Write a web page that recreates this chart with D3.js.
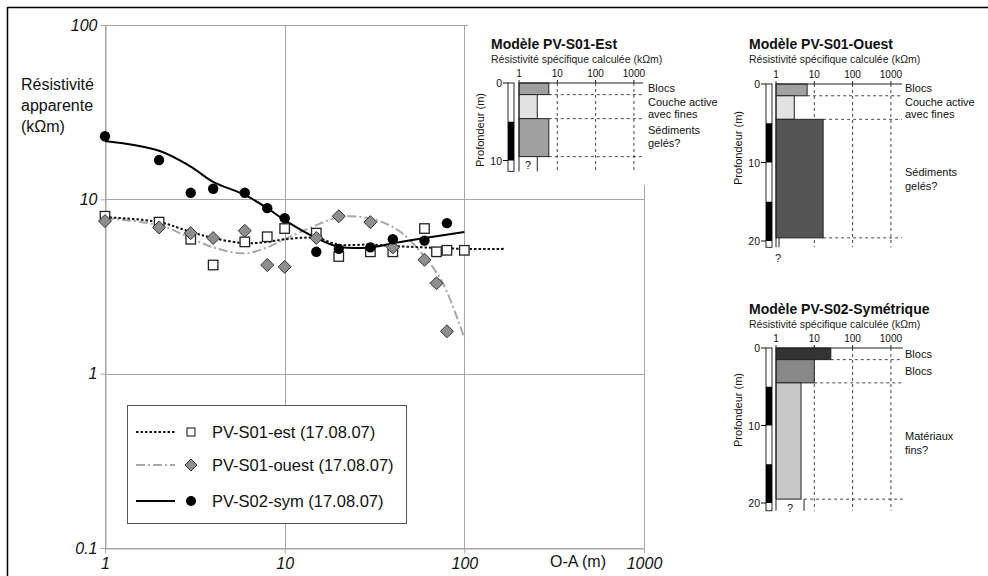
<!DOCTYPE html>
<html>
<head>
<meta charset="utf-8">
<script src="https://cdn.jsdelivr.net/npm/d3@7"></script>
<style>
  body { margin: 0; background: #fff; }
  svg { display: block; font-family: "Liberation Sans", Arial, sans-serif; }
</style>
</head>
<body>
<div id="chart"></div>
<script>
// sondages (AB/2 in m, apparent resistivity in kOhm.m)
const abEst = [1, 2, 3, 4, 6, 8, 10, 15, 20, 30, 40, 60, 70, 80, 100];
const rhoEst = [8.0, 7.4, 5.9, 4.2, 5.7, 6.1, 6.8, 6.4, 4.7, 5.0, 5.0, 6.8, 5.0, 5.1, 5.1];
const abOuest = [1, 2, 3, 4, 6, 8, 10, 15, 20, 30, 40, 60, 70, 80];
const rhoOuest = [7.5, 6.9, 6.4, 6.0, 6.6, 4.2, 4.1, 6.0, 8.0, 7.4, 5.3, 4.5, 3.3, 1.75];
const abSym = [1, 2, 3, 4, 6, 8, 10, 15, 20, 30, 40, 60, 80];
const rhoSym = [23, 16.8, 10.9, 11.5, 10.9, 8.9, 7.8, 5.0, 5.2, 5.3, 5.9, 5.8, 7.3];

// model response curves
const fitEstX = [1, 2, 3, 4, 6, 8, 10, 15, 20, 30, 40, 60, 100, 170];
const fitEstY = [7.9, 7.4, 6.5, 6.0, 5.6, 5.7, 5.9, 6.0, 5.5, 5.5, 5.4, 5.3, 5.2, 5.2];
const fitOuestX = [1, 2, 3, 4, 6, 8, 10, 14, 20, 27, 35, 45, 60, 76, 100];
const fitOuestY = [7.8, 7.1, 6.0, 5.3, 4.9, 5.3, 5.9, 6.9, 7.9, 7.9, 7.4, 6.4, 4.7, 3.3, 1.6];
const fitSymX = [1, 2, 3, 4, 6, 8, 10, 15, 20, 30, 40, 60, 100];
const fitSymY = [21.6, 19.0, 15.4, 12.6, 10.6, 8.9, 7.6, 6.0, 5.35, 5.3, 5.6, 6.0, 6.5];

const xTicks = [1, 10, 100, 1000];
const yTicks = [0.1, 1, 10, 100];
const legendLabels = ["PV-S01-est (17.08.07)", "PV-S01-ouest (17.08.07)", "PV-S02-sym (17.08.07)"];

// 1D models: layer bottoms (m), resistivities (kOhm.m), half-space resistivity
const rhoTicks = [1, 10, 100, 1000];
const estDepth = [1.5, 4.6, 9.5];
const estRho = [6, 3, 6];
const estHalf = 3;
const estLabels = ["Blocs", "Couche active", "avec fines", "Sédiments", "gelés?"];
const ouestDepth = [1.5, 4.5, 19.6];
const ouestRho = [6.5, 3, 17];
const ouestHalf = 1.2;
const ouestLabels = ["Blocs", "Couche active", "avec fines", "Sédiments", "gelés?"];
const symDepth = [1.5, 4.5, 19.5];
const symRho = [27, 10, 4.5];
const symHalf = 5.4;
const symLabels = ["Blocs", "Blocs", "Matériaux", "fins?"];

const W = 988, H = 576;
const svg = d3.select("#chart").append("svg")
  .attr("width", W)
  .attr("height", H);

svg.append("rect").attr("width", W).attr("height", H).attr("fill", "#fff");

// frame
svg.append("line").attr("x1", 7.5).attr("x2", W).attr("y1", 7.5).attr("y2", 7.5)
  .attr("stroke", "#000").attr("stroke-width", 1.5);
svg.append("line").attr("x1", 7.5).attr("x2", 7.5).attr("y1", 7).attr("y2", H)
  .attr("stroke", "#000").attr("stroke-width", 1.5);

const x = d3.scaleLog().domain([1, 1000]).range([105, 644]);
const y = d3.scaleLog().domain([0.1, 100]).range([548, 25]);

// grid
const grid = svg.append("g").attr("stroke", "#a6a6a6").attr("stroke-width", 1);
grid.selectAll(".gx").data(xTicks).join("line")
  .attr("x1", d => Math.round(x(d)) + 0.5).attr("x2", d => Math.round(x(d)) + 0.5)
  .attr("y1", y(0.1)).attr("y2", y(100));
grid.selectAll(".gy").data(yTicks).join("line")
  .attr("x1", x(1)).attr("x2", x(1000))
  .attr("y1", d => Math.round(y(d)) + 0.5).attr("y2", d => Math.round(y(d)) + 0.5);

// axes
const yAxis = svg.append("g")
  .attr("transform", "translate(" + (x(1) + 0.5) + ",0)")
  .call(d3.axisLeft(y).tickValues(yTicks).tickSize(5).tickSizeOuter(0).tickFormat(d3.format("~g")));
const xAxis = svg.append("g")
  .attr("transform", "translate(0," + (y(0.1) + 0.5) + ")")
  .call(d3.axisBottom(x).tickValues(xTicks).tickSize(5).tickSizeOuter(0).tickFormat(d3.format("~g")));
[yAxis, xAxis].forEach(a => {
  a.select(".domain").attr("stroke", "#a6a6a6");
  a.selectAll(".tick line").attr("stroke", "#a6a6a6");
  a.selectAll(".tick text")
    .attr("fill", "#111")
    .style("font-size", "16px")
    .style("font-style", "italic")
    .style("font-family", "'Liberation Sans', Arial, sans-serif");
});
xAxis.selectAll(".tick text").attr("y", 9);

svg.append("text").attr("x", 578).attr("y", 567).attr("text-anchor", "middle")
  .style("font-size", "16px").attr("fill", "#111").text("O-A (m)");

svg.append("text").attr("x", 21).attr("y", 90)
  .style("font-size", "16px").attr("fill", "#111")
  .selectAll("tspan").data(["Résistivité", "apparente", "(kΩm)"]).join("tspan")
  .attr("x", 21).attr("dy", (d, i) => i == 0 ? 0 : 21).text(d => d);

// curves
const line = d3.line().x(d => x(d[0])).y(d => y(d[1])).curve(d3.curveCatmullRom.alpha(0.5));
const plot = svg.append("g");
plot.append("path").datum(d3.zip(fitOuestX, fitOuestY)).attr("d", line)
  .attr("fill", "none").attr("stroke", "#a8a8a8").attr("stroke-width", 2)
  .attr("stroke-dasharray", "9,3,2,3");
plot.append("path").datum(d3.zip(fitEstX, fitEstY)).attr("d", line)
  .attr("fill", "none").attr("stroke", "#111").attr("stroke-width", 2)
  .attr("stroke-dasharray", "2.5,2");
plot.append("path").datum(d3.zip(fitSymX, fitSymY)).attr("d", line)
  .attr("fill", "none").attr("stroke", "#000").attr("stroke-width", 2);

// points
const sq = 9.5, dm = 6.5;
plot.selectAll(".est").data(d3.zip(abEst, rhoEst)).join("rect")
  .attr("x", d => x(d[0]) - sq / 2).attr("y", d => y(d[1]) - sq / 2)
  .attr("width", sq).attr("height", sq)
  .attr("fill", "#fff").attr("stroke", "#222").attr("stroke-width", 1.3);
plot.selectAll(".ouest").data(d3.zip(abOuest, rhoOuest)).join("path")
  .attr("transform", d => "translate(" + x(d[0]) + "," + y(d[1]) + ")")
  .attr("d", "M0," + (-dm) + "L" + dm + ",0L0," + dm + "L" + (-dm) + ",0Z")
  .attr("fill", "#8e8e8e").attr("stroke", "#333").attr("stroke-width", 1);
plot.selectAll(".sym").data(d3.zip(abSym, rhoSym)).join("circle")
  .attr("cx", d => x(d[0])).attr("cy", d => y(d[1])).attr("r", 5.2)
  .attr("fill", "#000");

// legend
const lg = svg.append("g");
lg.append("rect").attr("x", 127.5).attr("y", 405.5).attr("width", 279).attr("height", 118)
  .attr("fill", "#fff").attr("stroke", "#555").attr("stroke-width", 1);
const rowY = [432, 465, 501];
const legendStyles = [
  { stroke: "#111", dash: "2.5,2" },
  { stroke: "#a8a8a8", dash: "9,3,2,3" },
  { stroke: "#000", dash: null }
];
legendLabels.forEach((lab, i) => {
  lg.append("line").attr("x1", 136).attr("x2", 175).attr("y1", rowY[i]).attr("y2", rowY[i])
    .attr("stroke", legendStyles[i].stroke).attr("stroke-width", 2)
    .attr("stroke-dasharray", legendStyles[i].dash);
  lg.append("text").attr("x", 212).attr("y", rowY[i] + 6)
    .style("font-size", "16.5px").attr("fill", "#111").text(lab);
});
lg.append("rect").attr("x", 191 - 4).attr("y", rowY[0] - 4).attr("width", 8).attr("height", 8)
  .attr("fill", "#fff").attr("stroke", "#222").attr("stroke-width", 1.1);
lg.append("path").attr("transform", "translate(191," + rowY[1] + ")")
  .attr("d", "M0,-6L6,0L0,6L-6,0Z").attr("fill", "#8e8e8e").attr("stroke", "#333");
lg.append("circle").attr("cx", 191).attr("cy", rowY[2]).attr("r", 5).attr("fill", "#000");

// cover the grid behind the first model
svg.append("rect").attr("x", 468).attr("y", 18).attr("width", 240).attr("height", 167).attr("fill", "#fff");

function drawModel(cfg, depth, rho, half, labels) {
  const g = svg.append("g");
  const sx = d3.scaleLog().domain([1, 1000]).range([cfg.x0, cfg.x0 + 3 * 38.3]);
  const sy = d3.scaleLinear().domain([0, cfg.bottom]).range([cfg.top, cfg.top + cfg.bottom * cfg.pxm]);

  g.append("text").attr("x", cfg.tx).attr("y", cfg.ty)
    .style("font-size", "14px").style("font-weight", "bold").attr("fill", "#111").text(cfg.title);
  g.append("text").attr("x", cfg.tx).attr("y", cfg.ty + 14)
    .style("font-size", "10.5px").attr("fill", "#222").text("Résistivité spécifique calculée (kΩm)");

  // dashed verticals
  g.selectAll(".dv").data(rhoTicks.slice(1)).join("line")
    .attr("x1", d => sx(d)).attr("x2", d => sx(d))
    .attr("y1", sy(0)).attr("y2", sy(cfg.bottom))
    .attr("stroke", "#333").attr("stroke-width", 0.9).attr("stroke-dasharray", "3,3");

  // dashed layer boundaries
  const next = rho.slice(1).concat([half]);
  g.selectAll(".dh").data(depth).join("line")
    .attr("x1", (d, i) => sx(Math.max(rho[i], next[i]))).attr("x2", cfg.end)
    .attr("y1", d => sy(d)).attr("y2", d => sy(d))
    .attr("stroke", "#333").attr("stroke-width", 0.9).attr("stroke-dasharray", "3,3");

  // layers
  const tops = [0].concat(depth.slice(0, -1));
  g.selectAll(".layer").data(depth).join("rect")
    .attr("x", sx(1)).attr("y", (d, i) => sy(tops[i]))
    .attr("width", (d, i) => sx(rho[i]) - sx(1))
    .attr("height", (d, i) => sy(d) - sy(tops[i]))
    .attr("fill", (d, i) => cfg.fills[i]).attr("stroke", "#222").attr("stroke-width", 1);

  // half-space
  g.append("line").attr("x1", sx(1)).attr("x2", sx(1)).attr("y1", sy(0)).attr("y2", sy(cfg.bottom))
    .attr("stroke", "#222").attr("stroke-width", 1);
  g.append("line").attr("x1", sx(half)).attr("x2", sx(half))
    .attr("y1", sy(depth[depth.length - 1])).attr("y2", sy(cfg.bottom))
    .attr("stroke", "#222").attr("stroke-width", 1);
  g.append("text").attr("x", cfg.qx).attr("y", cfg.qy).attr("text-anchor", "middle")
    .style("font-size", "11px").attr("fill", "#111").text("?");

  // resistivity axis
  g.append("line").attr("x1", sx(1)).attr("x2", cfg.end).attr("y1", sy(0)).attr("y2", sy(0))
    .attr("stroke", "#222").attr("stroke-width", 1);
  g.selectAll(".rt").data(rhoTicks).join("line")
    .attr("x1", d => sx(d)).attr("x2", d => sx(d)).attr("y1", sy(0) - 3).attr("y2", sy(0))
    .attr("stroke", "#222");
  g.selectAll(".rl").data(rhoTicks).join("text")
    .attr("x", d => sx(d)).attr("y", sy(0) - 6).attr("text-anchor", "middle")
    .style("font-size", "10px").attr("fill", "#111").text(d => d);

  // depth column
  g.append("rect").attr("x", cfg.bx).attr("y", sy(0)).attr("width", 6).attr("height", sy(cfg.bottom) - sy(0))
    .attr("fill", "#fff").attr("stroke", "#111").attr("stroke-width", 0.9);
  g.selectAll(".blk").data(cfg.black).join("rect")
    .attr("x", cfg.bx).attr("y", d => sy(d[0])).attr("width", 6).attr("height", d => sy(d[1]) - sy(d[0]))
    .attr("fill", "#000");
  g.selectAll(".dt").data(cfg.depthTicks).join("line")
    .attr("x1", cfg.bx - 5).attr("x2", cfg.bx).attr("y1", d => sy(d)).attr("y2", d => sy(d))
    .attr("stroke", "#111");
  g.selectAll(".dl").data(cfg.depthTicks).join("text")
    .attr("x", cfg.bx - 6).attr("y", d => sy(d) + 4).attr("text-anchor", "end")
    .style("font-size", "10.5px").attr("fill", "#111").text(d => d);
  g.append("text")
    .attr("transform", "translate(" + cfg.px + "," + cfg.py + ") rotate(-90)")
    .attr("text-anchor", "middle").style("font-size", "11px").attr("fill", "#111")
    .text("Profondeur (m)");

  // layer names
  g.selectAll(".ln").data(labels).join("text")
    .attr("x", cfg.lx).attr("y", (d, i) => cfg.ly[i])
    .style("font-size", "11px").attr("fill", "#111").text(d => d);
}

drawModel({
  title: "Modèle PV-S01-Est", tx: 491, ty: 49,
  x0: 519, top: 83, pxm: 7.75, bottom: 11.4, end: 643,
  bx: 508, depthTicks: [0, 10], black: [[5, 10]],
  fills: ["#a0a0a0", "#e2e2e2", "#a0a0a0"],
  qx: 528, qy: 169, px: 484, py: 130,
  lx: 648, ly: [92, 106, 118, 134, 147]
}, estDepth, estRho, estHalf, estLabels);

drawModel({
  title: "Modèle PV-S01-Ouest", tx: 749, ty: 49,
  x0: 776, top: 84, pxm: 7.85, bottom: 20.8, end: 902,
  bx: 766, depthTicks: [0, 10, 20], black: [[5, 10], [15, 20]],
  fills: ["#a0a0a0", "#e2e2e2", "#555555"],
  qx: 778, qy: 262, px: 742, py: 148,
  lx: 905, ly: [92, 106, 118, 176, 190]
}, ouestDepth, ouestRho, ouestHalf, ouestLabels);

drawModel({
  title: "Modèle PV-S02-Symétrique", tx: 749, ty: 314,
  x0: 776, top: 348, pxm: 7.75, bottom: 21, end: 903,
  bx: 766, depthTicks: [0, 10, 20], black: [[5, 10], [15, 20]],
  fills: ["#333333", "#888888", "#c8c8c8"],
  qx: 790, qy: 512, px: 742, py: 410,
  lx: 905, ly: [358, 375, 440, 454]
}, symDepth, symRho, symHalf, symLabels);
</script>
</body>
</html>
